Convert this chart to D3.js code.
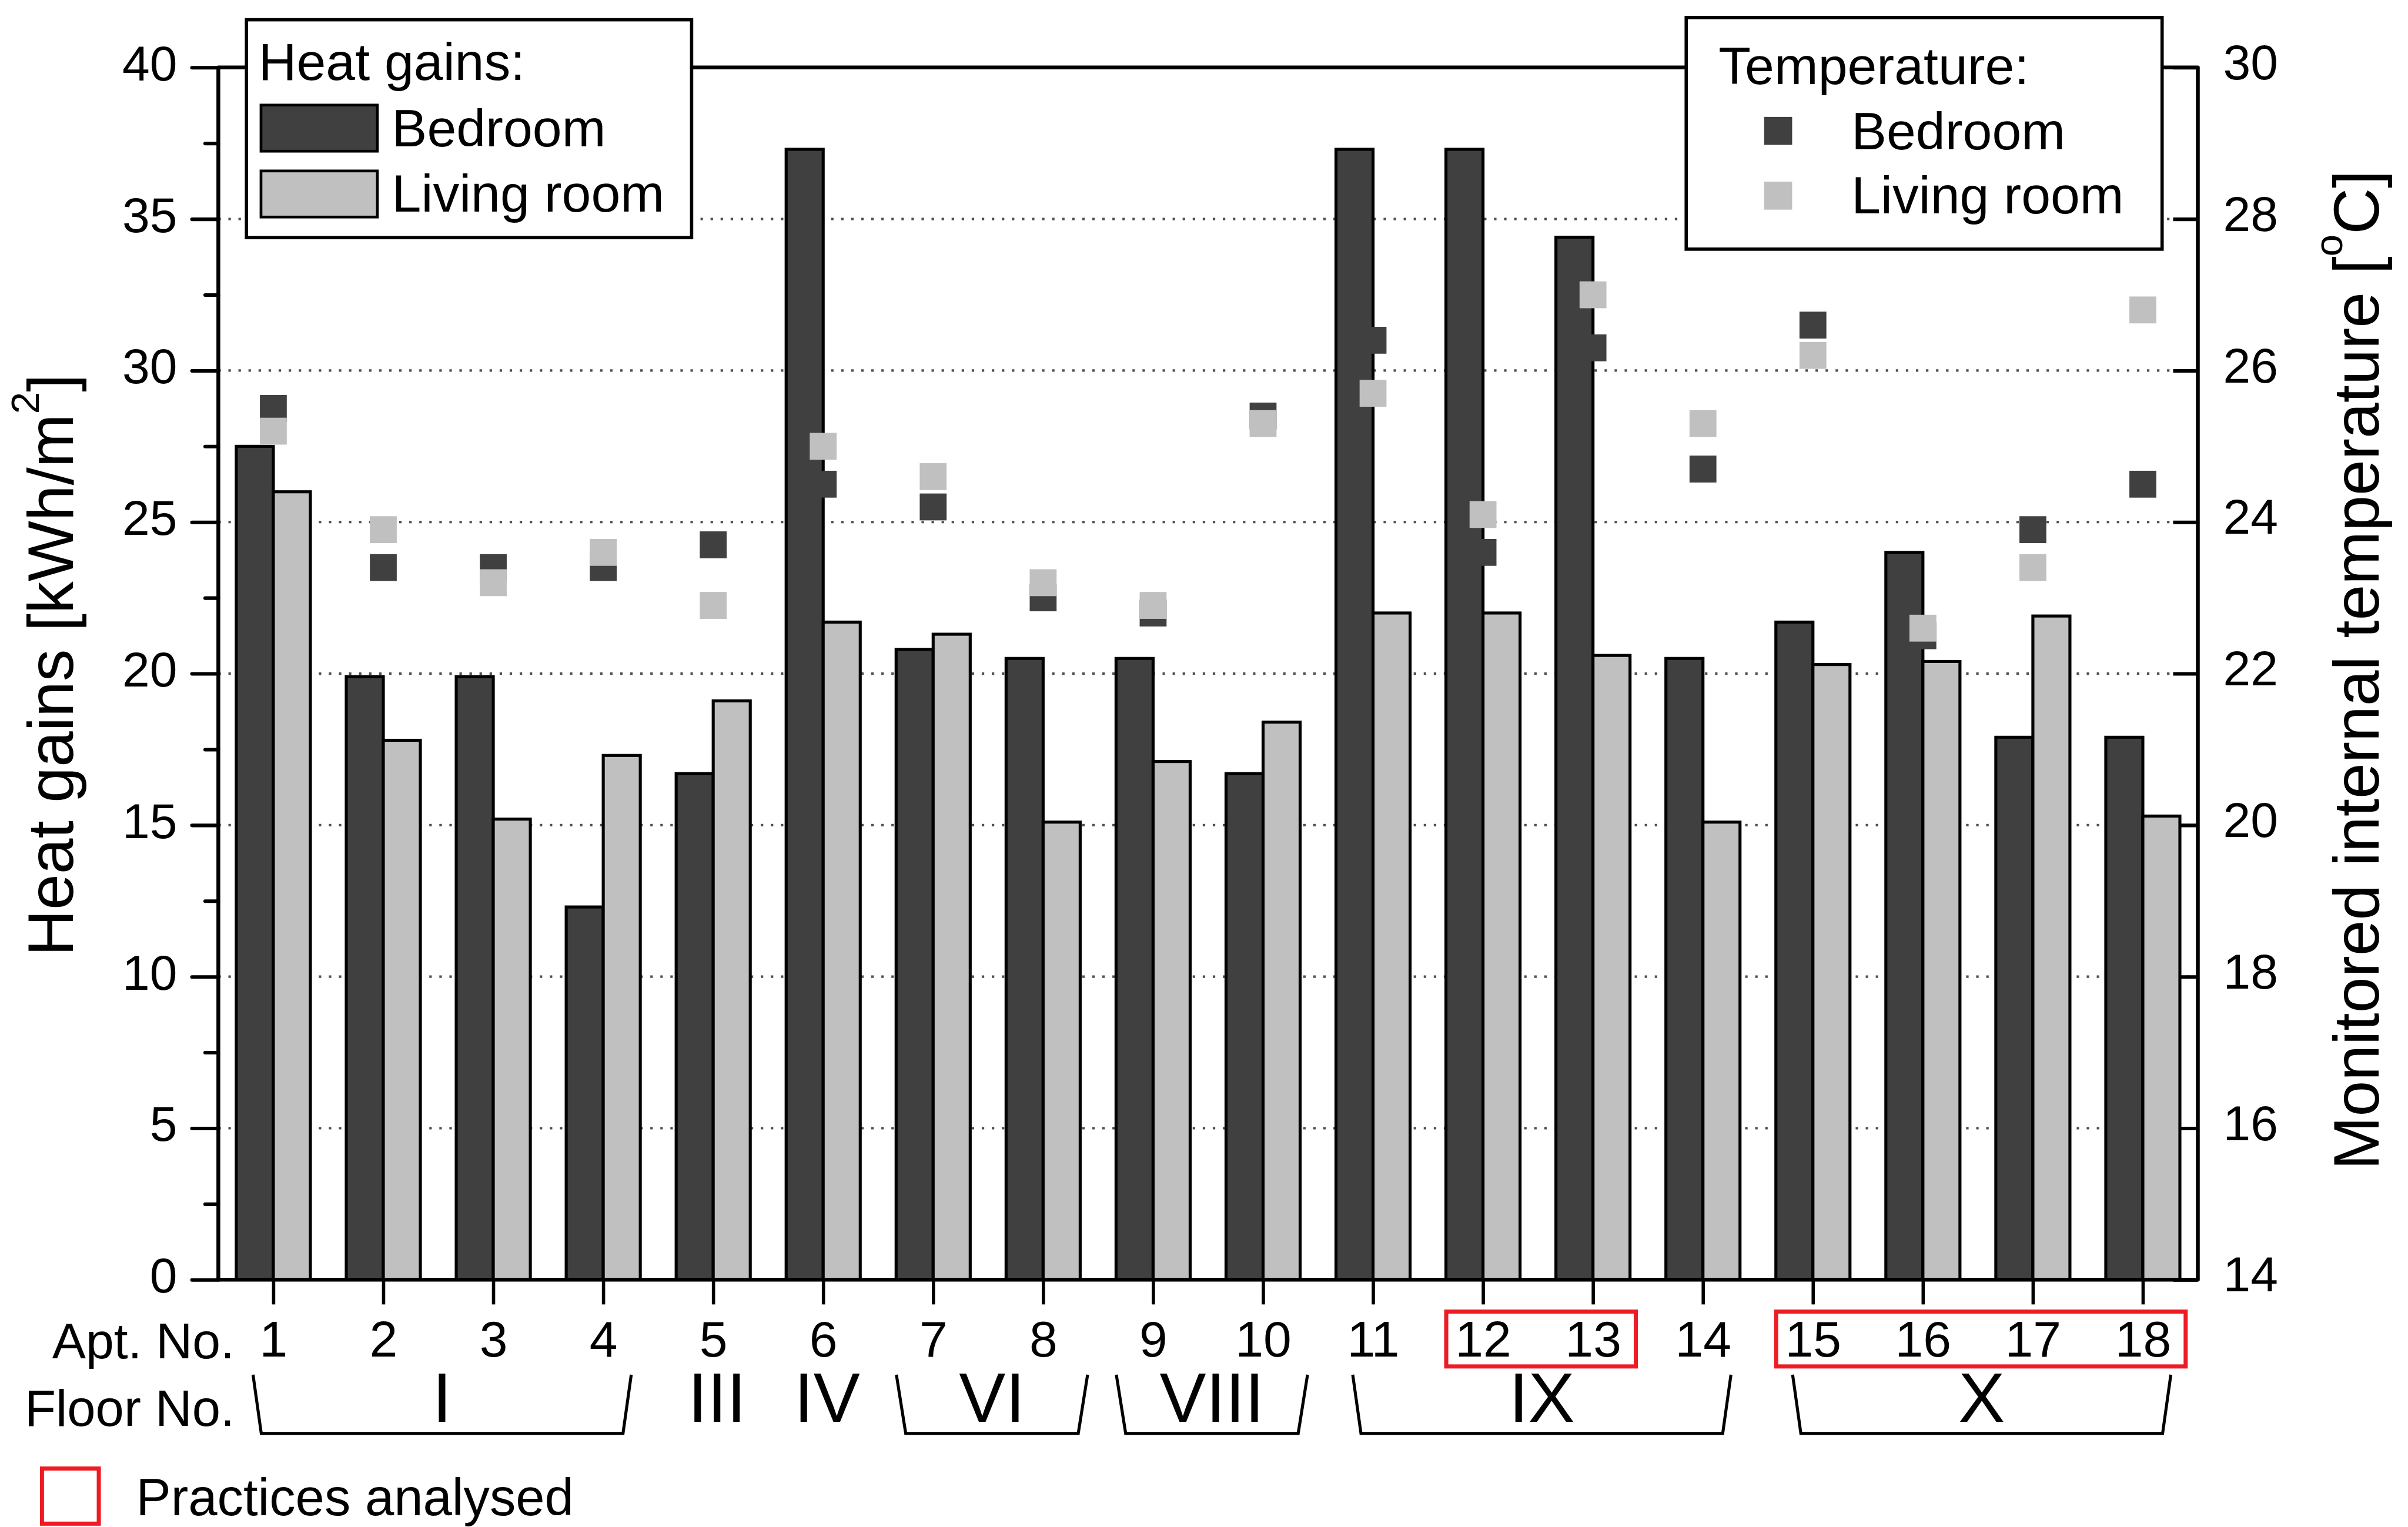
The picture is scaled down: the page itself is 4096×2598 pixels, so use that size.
<!DOCTYPE html>
<html>
<head>
<meta charset="utf-8">
<script src="https://cdn.jsdelivr.net/npm/d3@7"></script>
<style>
html,body{margin:0;padding:0;background:#fff;}
svg{display:block;}
</style>
</head>
<body>
<script>
// ---------------- DATA ----------------
const apartments = [1,2,3,4,5,6,7,8,9,10,11,12,13,14,15,16,17,18];
const heatBedroom = [27.5,19.9,19.9,12.3,16.7,37.3,20.8,20.5,20.5,16.7,37.3,37.3,34.4,20.5,21.7,24.0,17.9,17.9];
const heatLiving  = [26.0,17.8,15.2,17.3,19.1,21.7,21.3,15.1,17.1,18.4,22.0,22.0,20.6,15.1,20.3,20.4,21.9,15.3];
const tempBedroom = [25.5,23.4,23.4,23.4,23.7,24.5,24.2,23.0,22.8,25.4,26.4,23.6,26.3,24.7,26.6,22.5,23.9,24.5];
const tempLiving  = [25.2,23.9,23.2,23.6,22.9,25.0,24.6,23.2,22.9,25.3,25.7,24.1,27.0,25.3,26.2,22.6,23.4,26.8];
const heatTicks = [0,5,10,15,20,25,30,35,40];
const heatMinorTicks = [2.5,7.5,12.5,17.5,22.5,27.5,32.5,37.5];
const gridTicks = [5,10,15,20,25,30,35];
const tempTicks = [14,16,18,20,22,24,26,28,30];
const floorLabels = ["I","III","IV","VI","VIII","IX","X"];
const floorFirst  = [1,5,6,7,9,11,15];
const floorLast   = [4,5,6,8,10,14,18];
const floorBracket = [true,false,false,true,true,true,true];
const analysedFirst = [12,15];
const analysedLast  = [13,18];
const seriesNames = ["Bedroom","Living room"];

// ---------------- STYLE ----------------
const W = 4096, H = 2598, S = 4096/4387;
const FONT = "'Liberation Sans', Arial, Helvetica, sans-serif";
const DARK = "#404040", LIGHT = "#c0c0c0", RED = "#ed1c24";

const svg = d3.select("body").append("svg").attr("width", W).attr("height", H)
  .attr("font-family", FONT);
svg.append("rect").attr("width", W).attr("height", H).attr("fill", "#fff");
const root = svg.append("g").attr("transform", `scale(${S})`);

const X0 = 397.8, X1 = 4004.1, Y0 = 2332, Y1 = 123;
const x = d3.scaleLinear().domain([0.5, 18.5]).range([X0, X1]);
const yL = d3.scaleLinear().domain([0, 40]).range([Y0, Y1]);
const yR = d3.scaleLinear().domain([14, 30]).range([Y0, Y1]);
const barW = 67.5;
const mk = 49;

// ---- grid (behind) ----
root.append("g").selectAll("line").data(gridTicks).join("line")
  .attr("x1", X0).attr("x2", X1)
  .attr("y1", d => yL(d)).attr("y2", d => yL(d))
  .attr("stroke", "#505050").attr("stroke-width", 4.5)
  .attr("stroke-dasharray", "4.5 13.8");

// ---- right axis (ticks inward, behind bars) ----
const rAxis = root.append("g").attr("transform", `translate(${X1},0)`)
  .call(d3.axisRight(yR).tickValues(tempTicks).tickSize(-45).tickPadding(46).tickFormat(d3.format("d")));
rAxis.select(".domain").remove();
rAxis.selectAll(".tick line").attr("stroke", "#000").attr("stroke-width", 6.5);
rAxis.selectAll(".tick text").attr("font-size", 90).attr("font-family", FONT)
  .attr("fill", "#000").attr("dy", null).attr("y", 21);
rAxis.attr("font-size", null).attr("font-family", null);

// ---- bars ----
const bars = root.append("g");
bars.selectAll("rect.bed").data(apartments).join("rect").attr("class", "bed")
  .attr("x", (d) => x(d) - barW).attr("width", barW)
  .attr("y", (d, i) => yL(heatBedroom[i])).attr("height", (d, i) => Y0 - yL(heatBedroom[i]))
  .attr("fill", DARK).attr("stroke", "#000").attr("stroke-width", 5.5);
bars.selectAll("rect.liv").data(apartments).join("rect").attr("class", "liv")
  .attr("x", (d) => x(d)).attr("width", barW)
  .attr("y", (d, i) => yL(heatLiving[i])).attr("height", (d, i) => Y0 - yL(heatLiving[i]))
  .attr("fill", LIGHT).attr("stroke", "#000").attr("stroke-width", 5.5);

// ---- temperature markers ----
const marks = root.append("g");
marks.selectAll("rect.tb").data(apartments).join("rect").attr("class", "tb")
  .attr("x", d => x(d) - mk/2).attr("y", (d, i) => yR(tempBedroom[i]) - mk/2)
  .attr("width", mk).attr("height", mk).attr("fill", DARK);
marks.selectAll("rect.tl").data(apartments).join("rect").attr("class", "tl")
  .attr("x", d => x(d) - mk/2).attr("y", (d, i) => yR(tempLiving[i]) - mk/2)
  .attr("width", mk).attr("height", mk).attr("fill", LIGHT);

// ---- left axis ----
const lAxis = root.append("g").attr("transform", `translate(${X0},0)`)
  .call(d3.axisLeft(yL).tickValues(heatTicks).tickSize(48).tickPadding(27).tickFormat(d3.format("d")));
lAxis.select(".domain").remove();
lAxis.selectAll(".tick line").attr("stroke", "#000").attr("stroke-width", 6.5).attr("stroke-linecap", "round");
lAxis.selectAll(".tick text").attr("font-size", 90).attr("font-family", FONT)
  .attr("fill", "#000").attr("dy", null).attr("y", 23);
lAxis.attr("font-size", null).attr("font-family", null);
const lMinor = root.append("g").attr("transform", `translate(${X0},0)`)
  .call(d3.axisLeft(yL).tickValues(heatMinorTicks).tickSize(24).tickFormat(""));
lMinor.select(".domain").remove();
lMinor.selectAll(".tick line").attr("stroke", "#000").attr("stroke-width", 6.5).attr("stroke-linecap", "round");

// ---- bottom axis ----
const bAxis = root.append("g").attr("transform", `translate(0,${Y0})`)
  .call(d3.axisBottom(x).tickValues(apartments).tickSize(45).tickPadding(30).tickFormat(d3.format("d")));
bAxis.select(".domain").remove();
bAxis.selectAll(".tick line").attr("stroke", "#000").attr("stroke-width", 6);
bAxis.selectAll(".tick text").attr("font-size", 92).attr("font-family", FONT)
  .attr("fill", "#000").attr("dy", null).attr("y", 140);
bAxis.attr("font-size", null).attr("font-family", null);

// ---- frame ----
root.append("rect").attr("x", X0).attr("y", Y1).attr("width", X1 - X0).attr("height", Y0 - Y1)
  .attr("fill", "none").attr("stroke", "#000").attr("stroke-width", 7).attr("stroke-linejoin", "round");

// ---- axis titles ----
const lt = root.append("text").attr("transform", `translate(133,1212) rotate(-90)`)
  .attr("text-anchor", "middle").attr("font-size", 117).attr("fill", "#000");
lt.append("tspan").text("Heat gains [kWh/m");
lt.append("tspan").attr("font-size", 72).attr("dy", -62).text("2");
lt.append("tspan").attr("dy", 62).text("]");

const rt = root.append("text").attr("transform", `translate(4333,1221) rotate(-90)`)
  .attr("text-anchor", "middle").attr("font-size", 117).attr("fill", "#000");
rt.append("tspan").text("Monitored internal temperature [");
rt.append("tspan").attr("font-size", 72).attr("dy", -66).text("o");
rt.append("tspan").attr("dy", 66).text("C]");

// ---- left legend (heat gains) ----
const lg = root.append("g");
lg.append("rect").attr("x", 449).attr("y", 36).attr("width", 811).attr("height", 397)
  .attr("fill", "#fff").attr("stroke", "#000").attr("stroke-width", 6);
lg.append("text").attr("x", 471).attr("y", 146).attr("font-size", 96).text("Heat gains:");
[DARK, LIGHT].forEach((c, i) => {
  lg.append("rect").attr("x", 475.5).attr("y", [191.5, 311.5][i]).attr("width", 212).attr("height", 84)
    .attr("fill", c).attr("stroke", "#000").attr("stroke-width", 5);
  lg.append("text").attr("x", 714).attr("y", [267, 386][i]).attr("font-size", 96).text(seriesNames[i]);
});

// ---- right legend (temperature) ----
const rg = root.append("g");
rg.append("rect").attr("x", 3072).attr("y", 32).attr("width", 867).attr("height", 422)
  .attr("fill", "#fff").attr("stroke", "#000").attr("stroke-width", 6);
rg.append("text").attr("x", 3131).attr("y", 153).attr("font-size", 96).text("Temperature:");
[DARK, LIGHT].forEach((c, i) => {
  rg.append("rect").attr("x", 3214).attr("y", [213, 331][i]).attr("width", 51).attr("height", 51).attr("fill", c);
  rg.append("text").attr("x", 3373).attr("y", [272, 389][i]).attr("font-size", 96).text(seriesNames[i]);
});

// ---- Apt. No. / Floor No. labels ----
root.append("text").attr("x", 95).attr("y", 2475).attr("font-size", 92).text("Apt. No.");
root.append("text").attr("x", 45).attr("y", 2598).attr("font-size", 93).text("Floor No.");

// floor roman numerals + brackets
const bracketLine = d3.line();
floorLabels.forEach((lab, i) => {
  const a = x(floorFirst[i]), b = x(floorLast[i]);
  const mid = (a + b) / 2 + 7;
  const half = (b - a) / 2;
  root.append("text").attr("x", mid).attr("y", 2591).attr("text-anchor", "middle")
    .attr("font-size", 127).text(lab);
  if (floorBracket[i]) {
    const n = floorLast[i] - floorFirst[i] + 1;
    const pt = n === 2 ? 74 : 44, pb = n === 2 ? 57 : 29;
    root.append("path").attr("d", bracketLine([
      [mid - half - pt, 2505], [mid - half - pb, 2612], [mid + half + pb, 2612], [mid + half + pt, 2505]
    ])).attr("fill", "none").attr("stroke", "#000").attr("stroke-width", 5.5);
  }
});

// red boxes (practices analysed)
analysedFirst.forEach((f, i) => {
  const a = x(f) - 67, b = x(analysedLast[i]) + 78;
  root.append("rect").attr("x", a).attr("y", 2390).attr("width", b - a).attr("height", 100)
    .attr("fill", "none").attr("stroke", RED).attr("stroke-width", 7.5);
});

// practices legend
root.append("rect").attr("x", 76.5).attr("y", 2676).attr("width", 103.5).attr("height", 100.5)
  .attr("fill", "none").attr("stroke", RED).attr("stroke-width", 7.5);
root.append("text").attr("x", 248).attr("y", 2761).attr("font-size", 95).text("Practices analysed");
</script>
</body>
</html>
